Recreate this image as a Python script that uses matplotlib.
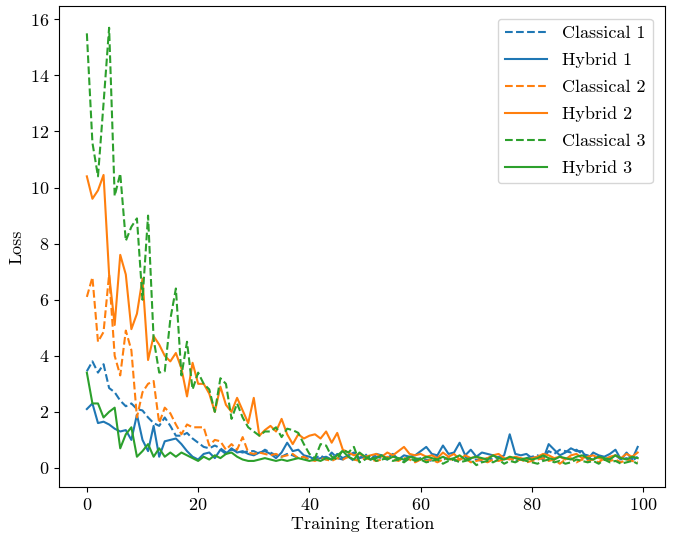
import matplotlib
matplotlib.use("Agg")
import matplotlib.pyplot as plt
import numpy as np

plt.rcParams.update({
    "font.family": "serif",
    "font.serif": ["cmr10"],
    "mathtext.fontset": "cm",
    "axes.formatter.use_mathtext": True,
    "font.size": 12.5,
})

iterations = list(range(100))

classical_1 = [3.45, 3.8, 3.4, 3.7, 2.85, 2.7, 2.4, 2.2, 2.3, 2.1,
               2.05, 1.8, 1.6, 1.5, 1.8, 1.5, 1.15, 1.15, 1.25, 1.05,
               0.9, 0.75, 0.7, 0.8, 0.7, 0.55, 0.65, 0.6, 0.55, 0.6,
               0.6, 0.5, 0.65, 0.55, 0.45, 0.4, 0.5, 0.45, 0.35, 0.4,
               0.3, 0.35, 0.45, 0.3, 0.55, 0.35, 0.3, 0.4, 0.25, 0.35,
               0.5, 0.3, 0.4, 0.35, 0.3, 0.45, 0.3, 0.25, 0.35, 0.3,
               0.35, 0.3, 0.25, 0.4, 0.3, 0.35, 0.25, 0.3, 0.4, 0.3,
               0.3, 0.25, 0.35, 0.3, 0.4, 0.3, 0.35, 0.25, 0.3, 0.35,
               0.4, 0.45, 0.35, 0.6, 0.5, 0.65, 0.6, 0.55, 0.65, 0.5,
               0.45, 0.35, 0.4, 0.3, 0.35, 0.45, 0.3, 0.35, 0.25, 0.4]

hybrid_1 = [2.1, 2.3, 1.6, 1.65, 1.55, 1.4, 1.3, 1.35, 1.0, 1.9,
            1.0, 0.6, 1.5, 0.4, 0.95, 1.0, 1.05, 0.85, 0.6, 0.4,
            0.3, 0.5, 0.55, 0.35, 0.65, 0.5, 0.7, 0.55, 0.6, 0.5,
            0.45, 0.55, 0.6, 0.5, 0.35, 0.55, 0.9, 0.6, 0.65, 0.45,
            0.4, 0.3, 0.35, 0.4, 0.3, 0.5, 0.35, 0.45, 0.55, 0.35,
            0.4, 0.3, 0.5, 0.45, 0.35, 0.5, 0.3, 0.45, 0.4, 0.45,
            0.6, 0.75, 0.5, 0.45, 0.8, 0.5, 0.55, 0.9, 0.45, 0.65,
            0.4, 0.55, 0.5, 0.45, 0.35, 0.45, 1.2, 0.5, 0.45, 0.5,
            0.35, 0.4, 0.3, 0.85, 0.65, 0.45, 0.55, 0.7, 0.6, 0.6,
            0.3, 0.55, 0.45, 0.4, 0.5, 0.65, 0.3, 0.55, 0.3, 0.75]

classical_2 = [6.1, 6.8, 4.5, 4.85, 6.9, 4.0, 3.3, 4.9, 4.2, 1.8,
               2.7, 3.0, 3.1, 1.6, 2.15, 1.95, 1.55, 1.2, 1.55, 1.45,
               1.45, 1.45, 0.8, 1.0, 0.95, 0.65, 0.85, 0.65, 1.1, 0.55,
               0.5, 0.55, 0.5, 0.45, 0.5, 0.4, 0.45, 0.5, 0.35, 0.4,
               0.3, 0.25, 0.35, 0.3, 0.25, 0.35, 0.3, 0.4, 0.3, 0.25,
               0.35, 0.3, 0.25, 0.3, 0.4, 0.3, 0.25, 0.35, 0.3, 0.2,
               0.3, 0.25, 0.3, 0.2, 0.3, 0.35, 0.25, 0.3, 0.35, 0.2,
               0.25, 0.3, 0.2, 0.3, 0.25, 0.3, 0.35, 0.25, 0.3, 0.2,
               0.25, 0.3, 0.35, 0.25, 0.3, 0.15, 0.3, 0.35, 0.2, 0.3,
               0.25, 0.3, 0.2, 0.35, 0.25, 0.3, 0.2, 0.3, 0.25, 0.2]

hybrid_2 = [10.4, 9.6, 9.9, 10.45, 6.9, 5.1, 7.6, 6.9, 4.95, 5.5,
            6.75, 3.85, 4.7, 4.4, 4.0, 3.8, 4.1, 3.55, 2.55, 3.75,
            3.0, 3.0, 2.65, 2.0, 2.9, 2.25, 2.0, 2.5, 2.05, 1.6,
            2.5, 1.15, 1.35, 1.5, 1.3, 1.75, 1.2, 0.85, 1.2, 1.05,
            1.15, 1.2, 1.05, 1.3, 0.9, 1.25, 0.65, 0.55, 0.45, 0.5,
            0.4, 0.45, 0.5, 0.4, 0.55, 0.45, 0.6, 0.75, 0.5, 0.45,
            0.5, 0.4, 0.45, 0.35, 0.55, 0.4, 0.5, 0.3, 0.45, 0.35,
            0.4, 0.3, 0.35, 0.45, 0.5, 0.35, 0.3, 0.4, 0.35, 0.3,
            0.35, 0.4, 0.5, 0.45, 0.35, 0.4, 0.3, 0.45, 0.5, 0.35,
            0.4, 0.45, 0.35, 0.3, 0.4, 0.45, 0.35, 0.5, 0.4, 0.55]

classical_3 = [15.5, 11.6, 10.4, 13.0, 15.7, 9.7, 10.5, 8.1, 8.6, 8.9,
               6.0, 9.0, 4.6, 3.4, 3.45, 5.3, 6.4, 3.3, 4.5, 2.8,
               3.4, 3.0, 2.8, 2.0, 3.2, 3.0, 1.75, 2.3, 1.8, 1.45,
               1.3, 1.15, 1.3, 1.3, 1.45, 1.1, 1.4, 1.35, 1.25, 0.85,
               0.5, 0.35, 0.85, 0.8, 0.4, 0.3, 0.65, 0.55, 0.75, 0.2,
               0.3, 0.45, 0.25, 0.3, 0.35, 0.25, 0.3, 0.2, 0.35, 0.25,
               0.3, 0.2, 0.25, 0.3, 0.15, 0.25, 0.3, 0.2, 0.25, 0.3,
               0.1, 0.2, 0.25, 0.2, 0.3, 0.15, 0.25, 0.2, 0.3, 0.25,
               0.2, 0.15, 0.25, 0.3, 0.2, 0.25, 0.15, 0.2, 0.3, 0.25,
               0.2, 0.25, 0.15, 0.3, 0.2, 0.25, 0.15, 0.2, 0.25, 0.15]

hybrid_3 = [3.4, 2.3, 2.3, 1.8, 2.0, 2.15, 0.7, 1.2, 1.45, 0.4,
            0.6, 0.85, 0.4, 0.7, 0.4, 0.55, 0.4, 0.55, 0.45, 0.35,
            0.25, 0.4, 0.3, 0.45, 0.35, 0.5, 0.55, 0.4, 0.3, 0.25,
            0.25, 0.3, 0.35, 0.3, 0.25, 0.3, 0.25, 0.3, 0.35, 0.3,
            0.25, 0.3, 0.25, 0.35, 0.3, 0.45, 0.6, 0.4, 0.3, 0.55,
            0.4, 0.3, 0.35, 0.45, 0.3, 0.4, 0.35, 0.3, 0.4, 0.35,
            0.3, 0.4, 0.35, 0.3, 0.4, 0.3, 0.35, 0.45, 0.3, 0.35,
            0.4, 0.35, 0.3, 0.45, 0.35, 0.3, 0.4, 0.35, 0.3, 0.35,
            0.3, 0.35, 0.45, 0.35, 0.3, 0.4, 0.35, 0.3, 0.4, 0.45,
            0.35, 0.3, 0.4, 0.35, 0.3, 0.45, 0.35, 0.3, 0.4, 0.35]

series_labels = ["Classical 1", "Hybrid 1", "Classical 2", "Hybrid 2", "Classical 3", "Hybrid 3"]

fig = plt.figure(figsize=(6.74, 5.34), dpi=100)
ax = fig.add_axes([0.088, 0.088, 0.899, 0.901])

series = [classical_1, hybrid_1, classical_2, hybrid_2, classical_3, hybrid_3]
colors = ["C0", "C0", "C1", "C1", "C2", "C2"]
styles = ["--", "-", "--", "-", "--", "-"]
for data, lab, c, ls in zip(series, series_labels, colors, styles):
    ax.plot(iterations, data, linestyle=ls, color=c, label=lab, linewidth=1.5)

ax.set_xlabel("Training Iteration", fontsize=13, labelpad=3)
ax.set_ylabel("Loss", fontsize=13, labelpad=4)
ax.set_xticks([0, 20, 40, 60, 80, 100])
ax.set_yticks([0, 2, 4, 6, 8, 10, 12, 14, 16])
ax.tick_params(labelsize=13)
ax.legend(loc="upper right", fontsize=13, handlelength=2.35,
          labelspacing=0.62, borderaxespad=0.7)

fig.savefig("out.png", dpi=100)
